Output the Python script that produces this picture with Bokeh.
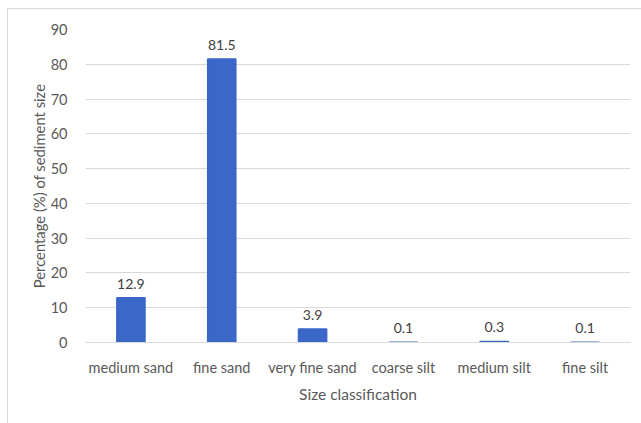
from bokeh.plotting import figure
from bokeh.models import ColumnDataSource, Range1d, FixedTicker, LabelSet, Title
from bokeh.core.properties import value
from bokeh.embed import file_html
from bokeh.resources import INLINE

# Sediment grain-size distribution
categories = ["medium sand", "fine sand", "very fine sand", "coarse silt", "medium silt", "fine silt"]
percentages = [12.9, 81.5, 3.9, 0.1, 0.3, 0.1]
y_ticks = [0, 10, 20, 30, 40, 50, 60, 70, 80, 90]

FONT = "Lato"
BAR = "#3A67C8"
TXT = "#595959"

source = ColumnDataSource(dict(
    cat=categories,
    pct=percentages,
    lbl=[f"{v:.1f}" for v in percentages],
))

p = figure(
    x_range=categories,
    y_range=Range1d(0, 90),
    width=634, height=415,
    output_backend="svg", toolbar_location=None,
    min_border_left=77, min_border_right=12,
    min_border_top=20, min_border_bottom=82,
)
p.margin = (8, 0, 0, 7)
p.styles = {"border-top": "1px solid #d9d9d9", "border-left": "1px solid #d9d9d9"}
p.outline_line_color = None
p.background_fill_color = "white"
p.border_fill_color = "white"

p.vbar(x="cat", top="pct", width=0.31, source=source,
       fill_color=BAR, line_color=BAR, line_width=1.5)

labels = LabelSet(x="cat", y="pct", text="lbl", source=source,
                  text_align="center", text_baseline="bottom",
                  y_offset=9, text_font=value(FONT), text_font_size=value("14px"),
                  text_color="#404040")
p.add_layout(labels)

# grid
p.xgrid.grid_line_color = None
p.ygrid.grid_line_color = "#d9d9d9"
p.ygrid.grid_line_width = 1
p.yaxis.ticker = FixedTicker(ticks=y_ticks)

# y axis
p.yaxis.axis_line_color = None
p.yaxis.major_tick_line_color = None
p.yaxis.minor_tick_line_color = None
p.yaxis.major_label_text_font = FONT
p.yaxis.major_label_text_font_size = "14.5px"
p.yaxis.major_label_text_color = TXT
p.yaxis.major_label_standoff = 12

# y title as a side title, nudged up from the frame centre
y_title = Title(text="Percentage (%) of sediment size", align="center",
                offset=19, standoff=0,
                text_font=FONT, text_font_size="14.8px",
                text_font_style="normal", text_color=TXT)
p.add_layout(y_title, "left")

# x axis
p.xaxis.axis_line_color = "#d9d9d9"
p.xaxis.major_tick_line_color = None
p.xaxis.minor_tick_line_color = None
p.xaxis.major_label_text_font = FONT
p.xaxis.major_label_text_font_size = "14.5px"
p.xaxis.major_label_text_color = TXT
p.xaxis.major_label_standoff = 10
p.xaxis.axis_label = "Size classification"
p.xaxis.axis_label_text_font = FONT
p.xaxis.axis_label_text_font_style = "normal"
p.xaxis.axis_label_text_font_size = "15.5px"
p.xaxis.axis_label_text_color = TXT
p.xaxis.axis_label_standoff = 6

open("out.html", "w").write(file_html(p, INLINE))
